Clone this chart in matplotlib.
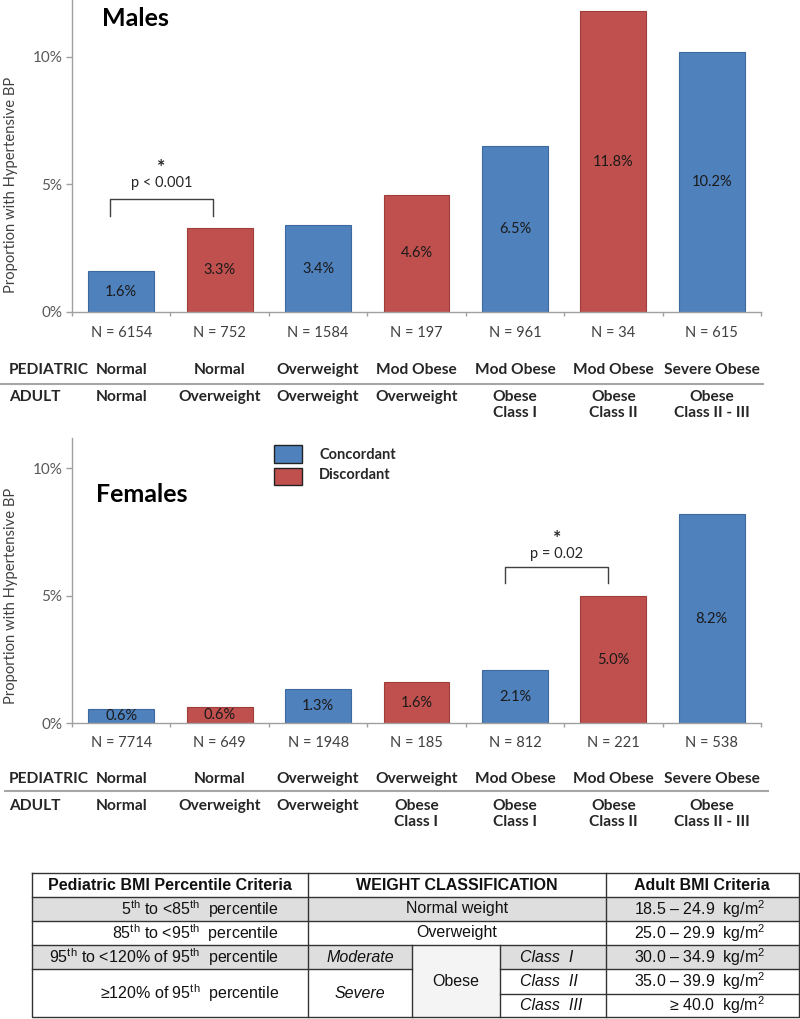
import numpy as np
import matplotlib.pyplot as plt
from matplotlib import transforms
from matplotlib.patches import Rectangle

plt.rcParams['font.family'] = ['Lato', 'DejaVu Sans']
plt.rcParams['mathtext.fontset'] = 'custom'
plt.rcParams['mathtext.rm'] = 'Liberation Sans'
plt.rcParams['mathtext.it'] = 'Liberation Sans:italic'

BLUE = '#4f81bd'
RED = '#c0504d'
GRID = '#a0a0a0'

# ---- data ----
concordant = [True, False, True, False, True, False, True]

ped_m = ['Normal', 'Normal', 'Overweight', 'Mod Obese', 'Mod Obese', 'Mod Obese', 'Severe Obese']
adult_m = ['Normal', 'Overweight', 'Overweight', 'Overweight',
           'Obese\nClass I', 'Obese\nClass II', 'Obese\nClass II - III']
pct_m = [1.6, 3.3, 3.4, 4.6, 6.5, 11.8, 10.2]
n_m = [6154, 752, 1584, 197, 961, 34, 615]

ped_f = ['Normal', 'Normal', 'Overweight', 'Overweight', 'Mod Obese', 'Mod Obese', 'Severe Obese']
adult_f = ['Normal', 'Overweight', 'Overweight', 'Obese\nClass I',
           'Obese\nClass I', 'Obese\nClass II', 'Obese\nClass II - III']
pct_f = [0.57, 0.63, 1.33, 1.63, 2.1, 5.0, 8.2]
n_f = [7714, 649, 1948, 185, 812, 221, 538]

W, H = 800, 1019
fig = plt.figure(figsize=(W / 100, H / 100), dpi=100)

# pixel overlay for labels / table
ov = fig.add_axes([0, 0, 1, 1], zorder=5)
ov.set_xlim(0, W)
ov.set_ylim(H, 0)
ov.axis('off')
ov.patch.set_alpha(0)


def px_axes(left, top, right, bottom):
    return fig.add_axes([left / W, 1 - bottom / H, (right - left) / W, (bottom - top) / H])


def draw_panel(ax, pct, n, ped, adult, ymax, title, title_xy, y_n, y_ped, sep, y_adult, ylab_y):
    x = np.arange(len(pct))
    colors = [BLUE if c else RED for c in concordant]
    edges = ['#3d6a9e' if c else '#9e3d3a' for c in concordant]
    ax.bar(x, pct, 0.67, color=colors, edgecolor=edges, linewidth=0.8, zorder=2)
    for xi, v in zip(x, pct):
        ax.text(xi, v / 2, '%.1f%%' % v, ha='center', va='center', fontsize=10.5, color='#1a1a1a')
    ax.set_xlim(-0.5, len(pct) - 0.5)
    ax.set_ylim(0, ymax)
    ax.set_yticks([0, 5, 10])
    ax.set_yticklabels(['0%', '5%', '10%'], fontsize=11, color='#595959')
    ax.set_xticks(np.arange(-0.5, len(pct), 1))
    ax.set_xticklabels([])
    ax.tick_params(axis='x', direction='out', length=3, color=GRID, width=1)
    ax.tick_params(axis='y', direction='out', length=4, color=GRID, width=1, pad=3)
    for s in ['top', 'right']:
        ax.spines[s].set_visible(False)
    for s in ['left', 'bottom']:
        ax.spines[s].set_color(GRID)
        ax.spines[s].set_linewidth(1)
    ax.set_facecolor('none')
    ax.set_ylabel('Proportion with Hypertensive BP', fontsize=10.6, color='#404040')
    ax.yaxis.set_label_coords(-0.078, ylab_y)

    tr = transforms.blended_transform_factory(ax.transData, ov.transData)
    for xi, nv, p, a in zip(x, n, ped, adult):
        ov.text(xi, y_n, 'N = %d' % nv, transform=tr, ha='center', va='center',
                fontsize=10.5, color='#404040')
        ov.text(xi, y_ped, p, transform=tr, ha='center', va='center',
                fontsize=11.2, fontweight='bold', color='#262626')
        ov.text(xi, y_adult, a, transform=tr, ha='center', va='top',
                fontsize=11.2, fontweight='bold', color='#262626', linespacing=1.2)
    ov.text(9, y_ped, 'PEDIATRIC', ha='left', va='center', fontsize=11.2,
            fontweight='bold', color='#262626')
    ov.text(9, y_adult, 'ADULT', ha='left', va='top', fontsize=11.2,
            fontweight='bold', color='#262626', linespacing=1.2)
    ov.plot([sep[0], sep[1]], [sep[2], sep[2]], color='#a6a6a6', lw=1.5)
    ov.text(title_xy[0], title_xy[1], title, ha='left', va='center', fontsize=18,
            fontweight='bold', color='black')


def bracket(ax, x0, x1, yb, yt, label, y_lab, y_star):
    ax.plot([x0, x0, x1, x1], [yb, yt, yt, yb], color='#404040', lw=1, zorder=3)
    xm = (x0 + x1) / 2
    ax.text(xm, y_lab, label, ha='center', va='center', fontsize=10.5, color='#262626')
    ax.text(xm, y_star, '*', ha='center', va='baseline', fontsize=14, fontweight='bold',
            color='#262626')


# ---- Males ----
ax_m = px_axes(72, 0, 761, 312)
draw_panel(ax_m, pct_m, n_m, ped_m, adult_m, 312 / 25.5, 'Males', (102, 18),
           333, 370, (0, 763, 384), 390, 0.407)
bracket(ax_m, -0.11, 0.93, 3.76, 4.43, 'p < 0.001', 5.05, 5.45)

# ---- Females ----
ax_f = px_axes(72, 438, 761, 723.3)
draw_panel(ax_f, pct_f, n_f, ped_f, adult_f, 285.3 / 25.5, 'Females', (96, 494),
           743, 779, (5, 768, 791), 799, 0.446)
bracket(ax_f, 3.9, 4.95, 5.49, 6.14, 'p = 0.02', 6.65, 7.05)

# legend
ov.add_patch(Rectangle((274, 445), 28, 18, facecolor=BLUE, edgecolor='#222222', lw=1))
ov.add_patch(Rectangle((274, 468), 28, 17, facecolor=RED, edgecolor='#222222', lw=1))
ov.text(319, 455, 'Concordant', ha='left', va='center', fontsize=10.5, fontweight='bold', color='#262626')
ov.text(319, 475, 'Discordant', ha='left', va='center', fontsize=10.5, fontweight='bold', color='#262626')

# ---- criteria table ----
TF = 'Liberation Sans'
xs = [32, 308, 411.7, 500, 605.7, 799]
ys = [873.3, 896.7, 920.7, 945, 969.3, 994, 1017]
SH = '#dedede'
ov.add_patch(Rectangle((xs[0], ys[1]), xs[5] - xs[0], ys[2] - ys[1], facecolor=SH, lw=0))
ov.add_patch(Rectangle((xs[0], ys[3]), xs[5] - xs[0], ys[4] - ys[3], facecolor=SH, lw=0))
ov.add_patch(Rectangle((xs[2], ys[3]), xs[3] - xs[2], ys[6] - ys[3], facecolor='#f4f4f4', lw=0))

LC = '#333333'
lw = 1.0
ov.plot([xs[0], xs[5], xs[5], xs[0], xs[0]], [ys[0], ys[0], ys[6], ys[6], ys[0]], color=LC, lw=lw)
for yy in ys[1:4]:
    ov.plot([xs[0], xs[5]], [yy, yy], color=LC, lw=lw)
ov.plot([xs[0], xs[2]], [ys[4], ys[4]], color=LC, lw=lw)
ov.plot([xs[3], xs[5]], [ys[4], ys[4]], color=LC, lw=lw)
ov.plot([xs[3], xs[5]], [ys[5], ys[5]], color=LC, lw=lw)
for xx in [xs[1], xs[4]]:
    ov.plot([xx, xx], [ys[0], ys[6]], color=LC, lw=lw)
for xx in [xs[2], xs[3]]:
    ov.plot([xx, xx], [ys[3], ys[6]], color=LC, lw=lw)


def cell(x, y, s, ha='center', style='normal', weight='normal'):
    ov.text(x, y, s, ha=ha, va='center', fontsize=11.5, family=TF, style=style,
            fontweight=weight, color='#111111')


def mid(a, b):
    return (a + b) / 2


cell(mid(xs[0], xs[1]), mid(ys[0], ys[1]), 'Pediatric BMI Percentile Criteria', weight='bold')
cell(mid(xs[1], xs[4]), mid(ys[0], ys[1]), 'WEIGHT CLASSIFICATION', weight='bold')
cell(mid(xs[4], xs[5]), mid(ys[0], ys[1]), 'Adult BMI Criteria', weight='bold')

ped_crit = [r'5$^{\mathrm{th}}$ to <85$^{\mathrm{th}}$  percentile',
            r'85$^{\mathrm{th}}$ to <95$^{\mathrm{th}}$  percentile',
            r'95$^{\mathrm{th}}$ to <120% of 95$^{\mathrm{th}}$  percentile',
            r'≥120% of 95$^{\mathrm{th}}$  percentile']
ped_y = [mid(ys[1], ys[2]), mid(ys[2], ys[3]), mid(ys[3], ys[4]), mid(ys[4], ys[6])]
for s, yy in zip(ped_crit, ped_y):
    cell(279, yy, s, ha='right')

cell(mid(xs[1], xs[4]), mid(ys[1], ys[2]), 'Normal weight')
cell(mid(xs[1], xs[4]), mid(ys[2], ys[3]), 'Overweight')
cell(mid(xs[1], xs[2]), mid(ys[3], ys[4]), 'Moderate', style='italic')
cell(mid(xs[1], xs[2]), mid(ys[4], ys[6]), 'Severe', style='italic')
cell(mid(xs[2], xs[3]), mid(ys[3], ys[6]), 'Obese')
for s, i in zip(['Class  I', 'Class  II', 'Class  III'], [3, 4, 5]):
    cell(520, mid(ys[i], ys[i + 1]), s, ha='left', style='italic')

adult_crit = [r'18.5 – 24.9  kg/m$^{2}$', r'25.0 – 29.9  kg/m$^{2}$',
              r'30.0 – 34.9  kg/m$^{2}$', r'35.0 – 39.9  kg/m$^{2}$',
              r'≥ 40.0  kg/m$^{2}$']
for s, i in zip(adult_crit, [1, 2, 3, 4, 5]):
    cell(765, mid(ys[i], ys[i + 1]), s, ha='right')

fig.savefig('out.png', dpi=100)
